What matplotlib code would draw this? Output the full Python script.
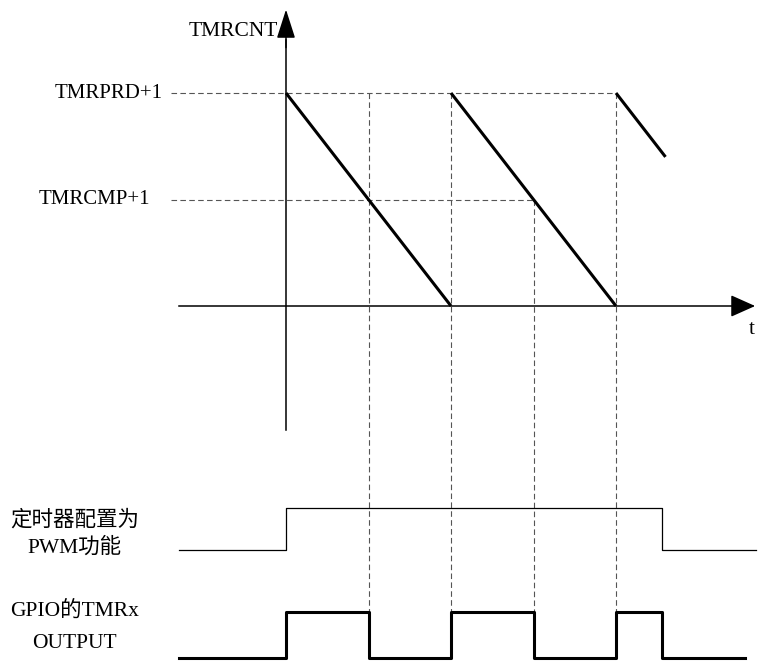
import matplotlib
matplotlib.use("Agg")
import matplotlib.pyplot as plt
import numpy as np

# timer counter: counts down from PRD+1 to 0 each period
period = 1.0
prd_level = 1.0          # TMRPRD+1
cmp_level = 0.5          # TMRCMP+1
ramp_starts = [0.0, 1.0, 2.0]
ramp_ends = [1.0, 2.0, 2.3]
cmp_times = [0.5, 1.5]   # counter crosses TMRCMP+1
pwm_on, pwm_off = 0.0, 2.28

# GPIO output edges (time, level after edge)
gpio_t = [-0.65, 0.0, 0.5, 1.0, 1.5, 2.0, 2.28, 2.78]
gpio_v = [0, 1, 0, 1, 0, 1, 0, 0]

# row positions for the two digital signals (in counter units)
en_lo, en_hi = -1.1455, -0.9484
io_lo, io_hi = -1.6526, -1.4366

serif = ['Liberation Serif', 'Noto Sans CJK SC']
fs = 15

fig = plt.figure(figsize=(7.59, 6.66), dpi=100)
ax = fig.add_axes([0, 0, 1, 1])
ax.set_xlim(-286 / 165, (759 - 286) / 165)
ax.set_ylim(-360 / 213, 306 / 213)
ax.axis('off')

dash = dict(color='#555555', lw=0.8, ls=(0, (5, 3)))

# axes with arrows
ax.plot([0, 0], [-0.58, 1.25], color='k', lw=1.1)
ax.annotate('', xy=(0, 1.405), xytext=(0, 1.2), annotation_clip=False,
            arrowprops=dict(arrowstyle='-|>,head_length=1.0,head_width=0.32',
                            color='k', lw=1.1, mutation_scale=18))
ax.plot([-0.65, 2.75], [0, 0], color='k', lw=1.1)
ax.annotate('', xy=(2.86, 0), xytext=(2.7, 0), annotation_clip=False,
            arrowprops=dict(arrowstyle='-|>,head_length=0.85,head_width=0.38',
                            color='k', lw=1.1, mutation_scale=18))

# reference levels
ax.plot([-0.7, 2.0], [prd_level, prd_level], **dash)
ax.plot([-0.7, 1.5], [cmp_level, cmp_level], **dash)

# vertical guides
for t in [0.5, 1.0, 2.0]:
    ax.plot([t, t], [prd_level, io_hi], **dash)
ax.plot([1.5, 1.5], [cmp_level, io_hi], **dash)

# counter ramps
for s, e in zip(ramp_starts, ramp_ends):
    ax.plot([s, e], [prd_level, prd_level - (e - s) / period * prd_level],
            color='k', lw=2.2, solid_capstyle='butt')

# PWM enable signal
ax.plot([-0.65, pwm_on, pwm_on, pwm_off, pwm_off, 2.85],
        [en_lo, en_lo, en_hi, en_hi, en_lo, en_lo], color='k', lw=0.9)

# GPIO output
gv = [io_lo + v * (io_hi - io_lo) for v in gpio_v]
ax.step(gpio_t, gv, where='post', color='k', lw=2.2)

# labels
ax.text(-0.05, 1.29, 'TMRCNT', ha='right', va='center', fontsize=15.5, family=serif)
ax.text(-0.745, prd_level, 'TMRPRD+1', ha='right', va='center', fontsize=fs, family=serif)
ax.text(-0.825, cmp_level, 'TMRCMP+1', ha='right', va='center', fontsize=fs, family=serif)
ax.text(2.82, -0.11, 't', ha='center', va='center', fontsize=fs, family=serif)
ax.text(-1.28, -1.0047, '定时器配置为', ha='center', va='center', fontsize=15.5, family=serif)
ax.text(-1.28, -1.1362, 'PWM功能', ha='center', va='center', fontsize=15.5, family=serif)
ax.text(-1.28, -1.4319, 'GPIO的TMRx', ha='center', va='center', fontsize=15.5, family=serif)
ax.text(-1.28, -1.5822, 'OUTPUT', ha='center', va='center', fontsize=15.5, family=serif)

fig.savefig('out.png', dpi=100)
